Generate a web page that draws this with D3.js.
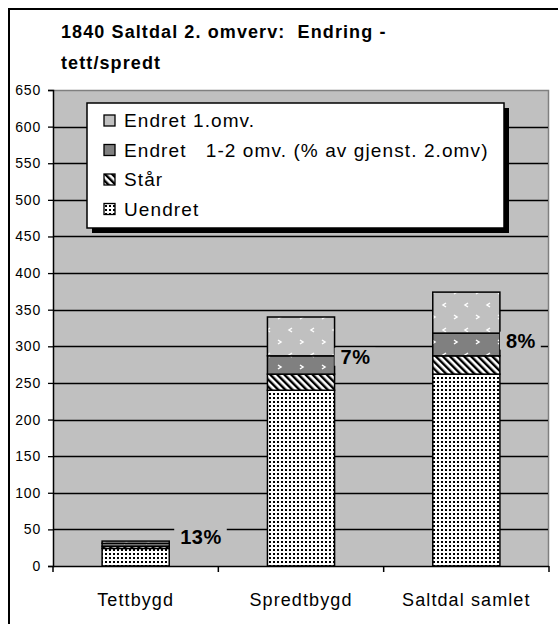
<!DOCTYPE html>
<html><head><meta charset="utf-8">
<script src="https://cdn.jsdelivr.net/npm/d3@7"></script>
<style>
html,body{margin:0;padding:0;background:#fff;}
svg{display:block;font-family:"Liberation Sans",Arial,sans-serif;}
</style></head>
<body><svg id="c" width="558" height="624"></svg>
<script>
const categories = ["Tettbygd", "Spredtbygd", "Saltdal samlet"];
const seriesNames = ["Uendret", "Står", "Endret   1-2 omv. (% av gjenst. 2.omv)", "Endret 1.omv."];
const uendret = [24, 240, 262];
const staar = [3, 22, 25];
const endret12 = [4, 25, 31];
const endret1 = [3, 53, 56];
const pctLabels = ["13%", "7%", "8%"];
const pctLabelValues = [40, 286, 308];
const yTicks = [0,50,100,150,200,250,300,350,400,450,500,550,600,650];
const titleLines = ["1840 Saltdal 2. omverv:  Endring -", "tett/spredt"];

(function(){
const svg = d3.select("#c");
const defs = svg.append("defs");

const pU = defs.append("pattern").attr("id","pU").attr("patternUnits","userSpaceOnUse").attr("width",4).attr("height",4);
pU.append("rect").attr("width",4).attr("height",4).attr("fill","#fff");
pU.append("rect").attr("x",1).attr("y",1).attr("width",2).attr("height",2).attr("fill","#000");

const pS = defs.append("pattern").attr("id","pS").attr("patternUnits","userSpaceOnUse").attr("width",5).attr("height",5).attr("patternTransform","rotate(-45)");
pS.append("rect").attr("width",5).attr("height",5).attr("fill","#fff");
pS.append("rect").attr("width",2.4).attr("height",5).attr("fill","#000");

function chevPattern(id, bg){
  const p = defs.append("pattern").attr("id",id).attr("patternUnits","userSpaceOnUse").attr("width",22).attr("height",25);
  p.append("rect").attr("width",22).attr("height",25).attr("fill",bg);
  p.append("path").attr("d","M6,3 L3,5 L6,7").attr("fill","none").attr("stroke","#fff").attr("stroke-width",1.5);
  p.append("path").attr("d","M14,15 L17,17 L14,19").attr("fill","none").attr("stroke","#fff").attr("stroke-width",1.5);
  return p;
}
chevPattern("pE12", "#808080");
chevPattern("pE1", "#c0c0c0");

const fills = ["url(#pU)", "url(#pS)", "url(#pE12)", "url(#pE1)"];

svg.append("rect").attr("x",9).attr("y",9).attr("width",700).attr("height",700)
  .attr("fill","#fff").attr("stroke","#000").attr("stroke-width",2);

svg.append("g").selectAll("text").data(titleLines).join("text")
  .attr("x",61).attr("y",(d,i)=>38+i*31)
  .attr("font-size",18).attr("font-weight","bold").attr("letter-spacing",1.1)
  .style("white-space","pre").attr("fill","#000").text(d=>d);

const pl = 53, pr = 549, pt = 90, pb = 566;
const x = d3.scaleBand().domain(categories).range([pl, pr]).paddingInner(0.594).paddingOuter(0.297);
const y = d3.scaleLinear().domain([0, 650]).range([pb, pt]);

svg.append("rect").attr("x",pl).attr("y",pt).attr("width",pr-pl).attr("height",pb-pt).attr("fill","#c0c0c0");
svg.append("path").attr("d",`M${pl},${pt+0.5}H${pr-0.5}V${pb}`).attr("fill","none").attr("stroke","#808080").attr("stroke-width",1.5);

svg.append("g").selectAll("line").data(yTicks.filter(t=>t>0 && t<650)).join("line")
  .attr("x1",pl).attr("x2",pr-1).attr("y1",d=>Math.round(y(d))+0.5).attr("y2",d=>Math.round(y(d))+0.5)
  .attr("stroke","#000").attr("stroke-width",1.3);

const rows = categories.map((c,i)=>({cat:c, s0:uendret[i], s1:staar[i], s2:endret12[i], s3:endret1[i]}));
const stack = d3.stack().keys(["s0","s1","s2","s3"])(rows);

const gBars = svg.append("g");
stack.forEach((layer, li)=>{
  gBars.append("g").selectAll("rect").data(layer).join("rect")
    .attr("x", d=>x(d.data.cat))
    .attr("width", x.bandwidth())
    .attr("y", d=>y(d[1]))
    .attr("height", d=>y(d[0])-y(d[1]))
    .attr("fill", fills[li]).attr("stroke","#000").attr("stroke-width",1.5);
});

const gLab = svg.append("g");
categories.forEach((c,i)=>{
  const tx = x(c) + x.bandwidth() + (i===0 ? 11 : 6);
  const ty = y(pctLabelValues[i]);
  const t = gLab.append("text").attr("x",tx).attr("y",ty).attr("dy","0.36em")
    .attr("font-size",20).attr("font-weight","bold").attr("letter-spacing",0.5).attr("fill","#000").text(pctLabels[i]);
  const bb = t.node().getBBox();
  gLab.insert("rect","text").attr("x",bb.x-6).attr("y",bb.y+2).attr("width",bb.width+11).attr("height",bb.height-4).attr("fill","#c0c0c0");
});
gLab.selectAll("text").raise();

const yAxis = svg.append("g").attr("transform",`translate(${pl},0)`)
  .call(d3.axisLeft(y).tickValues(yTicks).tickSize(5).tickPadding(7));
yAxis.select(".domain").attr("stroke","#000").attr("stroke-width",1.5);
yAxis.selectAll(".tick line").attr("stroke","#000").attr("stroke-width",1.3);
yAxis.selectAll(".tick text").attr("font-size",14).attr("letter-spacing",0.8).attr("fill","#000")
  .attr("font-family","'Liberation Sans',Arial,sans-serif");

const xg = svg.append("g").attr("transform",`translate(0,${pb})`);
xg.append("line").attr("x1",pl).attr("x2",pr).attr("y1",0.5).attr("y2",0.5).attr("stroke","#000").attr("stroke-width",1.5);
const step = x.step();
const bounds = [0,1,2,3].map(i=>pl + i*step);
xg.selectAll("line.tk").data(bounds).join("line").attr("class","tk")
  .attr("x1",d=>d).attr("x2",d=>d).attr("y1",0).attr("y2",6).attr("stroke","#000").attr("stroke-width",1.5);
xg.selectAll("text").data(categories).join("text")
  .attr("x",d=>x(d)+x.bandwidth()/2).attr("y",40)
  .attr("text-anchor","middle").attr("font-size",18).attr("letter-spacing",1.1).attr("fill","#000").text(d=>d);

const lg = svg.append("g");
const lx = 87, ly = 103, lw = 417, lh = 125;
lg.append("rect").attr("x",lx+5).attr("y",ly+5).attr("width",lw).attr("height",lh).attr("fill","#000");
lg.append("rect").attr("x",lx).attr("y",ly).attr("width",lw).attr("height",lh).attr("fill","#fff").attr("stroke","#000").attr("stroke-width",1.5);
const legendOrder = [3,2,1,0];
const swatchFills = ["url(#pU)", "url(#pS)", "#808080", "#c0c0c0"];
legendOrder.forEach((si, k)=>{
  const by = 127 + k*29.5;
  lg.append("rect").attr("x",104).attr("y",by-12).attr("width",11).attr("height",11)
    .attr("fill", swatchFills[si]).attr("stroke","#000").attr("stroke-width",1.3);
  lg.append("text").attr("x",124).attr("y",by).attr("font-size",19).attr("letter-spacing",1.1)
    .style("white-space","pre").attr("fill","#000").text(seriesNames[si]);
});
})();
</script></body></html>
